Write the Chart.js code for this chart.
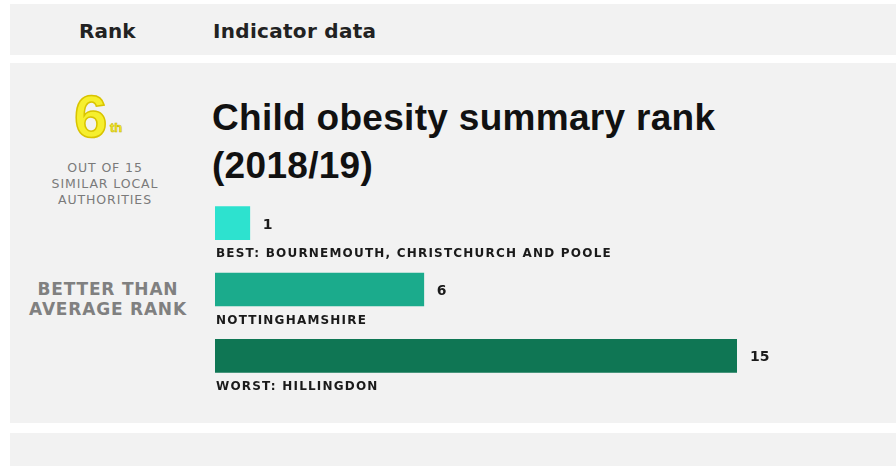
<!DOCTYPE html>
<html>
<head>
<meta charset="utf-8">
<script src="https://cdn.jsdelivr.net/npm/chart.js@4"></script>
<style>
  html,body{margin:0;padding:0;background:#fff;width:896px;height:466px;overflow:hidden;font-family:"Liberation Sans",Arial,sans-serif;}
  .panel{position:absolute;background:#f2f2f2;}
  .t{position:absolute;white-space:nowrap;}
  #wrap{position:absolute;left:0;top:0;width:896px;height:466px;}
</style>
</head>
<body>
<div class="panel" style="left:10px;top:4px;width:886px;height:51px;"></div>
<div class="panel" style="left:10px;top:63px;width:886px;height:360px;"></div>
<div class="panel" style="left:10px;top:433px;width:886px;height:40px;"></div>

<div class="t" style="left:79px;top:19px;font-family:'DejaVu Sans';font-size:20px;font-weight:600;color:#222;">Rank</div>
<div class="t" style="left:213px;top:19px;font-family:'DejaVu Sans';font-size:20px;font-weight:600;letter-spacing:0.3px;color:#222;">Indicator data</div>

<div class="t" style="left:74px;top:82px;font-family:'Liberation Sans';font-size:60px;font-weight:700;color:#f6ef2e;-webkit-text-stroke:1.5px #d9c400;">6</div>
<div class="t" style="left:110px;top:120px;font-family:'Liberation Sans';font-size:13px;font-weight:700;color:#f6ef2e;-webkit-text-stroke:0.6px #c9b400;">th</div>

<div class="t" style="left:25px;top:160px;width:160px;text-align:center;font-family:'DejaVu Sans';font-size:12.5px;line-height:16px;letter-spacing:0.9px;color:#7a7a7a;">OUT OF 15<br>SIMILAR LOCAL<br>AUTHORITIES</div>
<div class="t" style="left:23px;top:279px;width:170px;text-align:center;font-family:'DejaVu Sans';font-size:17px;font-weight:600;line-height:20px;letter-spacing:0.8px;color:#808080;">BETTER THAN<br>AVERAGE RANK</div>

<div class="t" style="left:212px;top:94px;font-family:'Liberation Sans';font-size:37px;font-weight:700;line-height:48px;letter-spacing:0.3px;color:#111;">Child obesity summary rank<br>(2018/19)</div>

<div id="wrap"><canvas id="c" width="896" height="466"></canvas></div>

<script>
const categories = ["BEST: BOURNEMOUTH, CHRISTCHURCH AND POOLE", "NOTTINGHAMSHIRE", "WORST: HILLINGDON"];
const values = [1, 6, 15];
const barColors = ["#2de2cf", "#1bab8c", "#0f7654"];
const rankMin = 0;
const rankMax = 15;

const labelPlugin = {
  id: 'barLabels',
  afterDatasetsDraw(chart) {
    const ctx = chart.ctx;
    const meta = chart.getDatasetMeta(0);
    ctx.save();
    meta.data.forEach((bar, i) => {
      ctx.fillStyle = '#1a1a1a';
      ctx.textBaseline = 'middle';
      ctx.textAlign = 'left';
      ctx.font = 'bold 14px "DejaVu Sans"';
      ctx.fillText(String(values[i]), bar.x + 13, bar.y + 2);
      ctx.font = 'bold 12px "DejaVu Sans"';
      ctx.letterSpacing = '1.2px';
      ctx.fillText(categories[i], chart.chartArea.left + 1, bar.y + 31);
      ctx.letterSpacing = '0px';
    });
    ctx.restore();
  }
};

new Chart(document.getElementById('c'), {
  type: 'bar',
  data: {
    labels: categories,
    datasets: [{
      data: values,
      backgroundColor: barColors,
      borderWidth: 0,
      barThickness: 33
    }]
  },
  options: {
    indexAxis: 'y',
    responsive: false,
    animation: false,
    layout: { padding: { left: 215, right: 159, top: 190, bottom: 77 } },
    plugins: { legend: { display: false }, tooltip: { enabled: false } },
    scales: {
      x: { display: false, min: rankMin, max: rankMax },
      y: { display: false }
    }
  },
  plugins: [labelPlugin]
});
</script>
</body>
</html>
